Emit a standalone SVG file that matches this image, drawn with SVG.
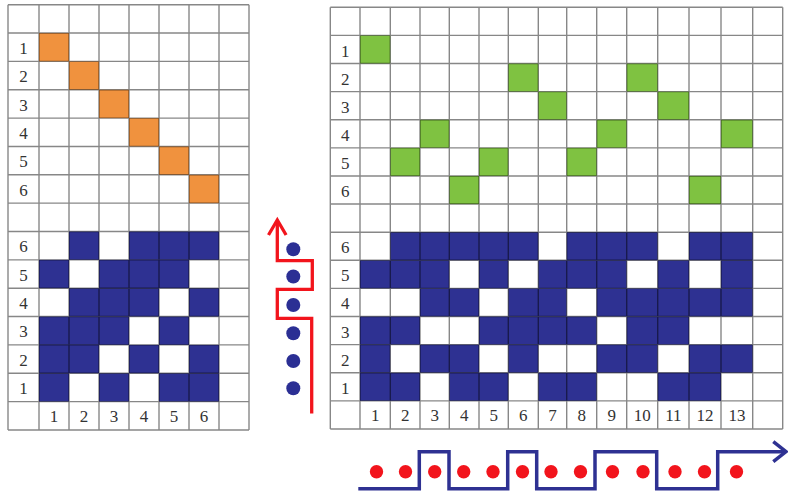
<svg xmlns="http://www.w3.org/2000/svg" width="788" height="492" viewBox="0 0 788 492">
<style>
.orange{fill:#f0923e}
.green{fill:#7fc241}
.blue{fill:#2e3192}
.grid{stroke:#000;stroke-opacity:0.47;stroke-width:1.4;fill:none}
.lbl{font-family:'Liberation Serif', 'Times New Roman', serif;font-size:17px;fill:#333;text-anchor:middle}
.bdot{fill:#2b2f94}
.rdot{fill:#f2141c}
</style>
<rect width="788" height="492" fill="#fff"/>

<g id="left-grid">
  <g id="left-orange">
    <rect class="orange" x="39" y="33.05" width="30" height="28.35"/>
    <rect class="orange" x="69" y="61.4" width="30" height="28.35"/>
    <rect class="orange" x="99" y="89.75" width="30" height="28.35"/>
    <rect class="orange" x="129" y="118.1" width="30" height="28.35"/>
    <rect class="orange" x="159" y="146.45" width="30" height="28.35"/>
    <rect class="orange" x="189" y="174.8" width="30" height="28.35"/>
  </g>
  <g id="left-blue">
    <rect class="blue" x="69" y="231.5" width="30" height="28.35"/>
    <rect class="blue" x="129" y="231.5" width="90" height="28.35"/>
    <rect class="blue" x="39" y="259.85" width="30" height="28.35"/>
    <rect class="blue" x="99" y="259.85" width="90" height="28.35"/>
    <rect class="blue" x="69" y="288.2" width="90" height="28.35"/>
    <rect class="blue" x="189" y="288.2" width="30" height="28.35"/>
    <rect class="blue" x="39" y="316.55" width="90" height="28.35"/>
    <rect class="blue" x="159" y="316.55" width="30" height="28.35"/>
    <rect class="blue" x="39" y="344.9" width="60" height="28.35"/>
    <rect class="blue" x="129" y="344.9" width="30" height="28.35"/>
    <rect class="blue" x="189" y="344.9" width="30" height="28.35"/>
    <rect class="blue" x="39" y="373.25" width="30" height="28.35"/>
    <rect class="blue" x="99" y="373.25" width="30" height="28.35"/>
    <rect class="blue" x="159" y="373.25" width="60" height="28.35"/>
  </g>
  <path class="grid" d="M8,4.7V429.95M39,4.7V429.95M69,4.7V429.95M99,4.7V429.95M129,4.7V429.95M159,4.7V429.95M189,4.7V429.95M219,4.7V429.95M249,4.7V429.95
  M8,4.7H249M8,33.05H249M8,61.4H249M8,89.75H249M8,118.1H249M8,146.45H249M8,174.8H249M8,203.15H249M8,231.5H249M8,259.85H249M8,288.2H249M8,316.55H249M8,344.9H249M8,373.25H249M8,401.6H249M8,429.95H249"/>
  <g id="left-labels" font-family="'Liberation Serif', 'Times New Roman', serif">
    <text class="lbl" x="23.5" y="54">1</text>
    <text class="lbl" x="23.5" y="82.3">2</text>
    <text class="lbl" x="23.5" y="110.6">3</text>
    <text class="lbl" x="23.5" y="139">4</text>
    <text class="lbl" x="23.5" y="167.3">5</text>
    <text class="lbl" x="23.5" y="195.7">6</text>
    <text class="lbl" x="23.5" y="252.4">6</text>
    <text class="lbl" x="23.5" y="280.7">5</text>
    <text class="lbl" x="23.5" y="309.1">4</text>
    <text class="lbl" x="23.5" y="337.4">3</text>
    <text class="lbl" x="23.5" y="365.8">2</text>
    <text class="lbl" x="23.5" y="394.1">1</text>
    <text class="lbl" x="54" y="421.8">1</text>
    <text class="lbl" x="84" y="421.8">2</text>
    <text class="lbl" x="114" y="421.8">3</text>
    <text class="lbl" x="144" y="421.8">4</text>
    <text class="lbl" x="174" y="421.8">5</text>
    <text class="lbl" x="204" y="421.8">6</text>
  </g>
</g>

<g id="right-grid">
  <g id="right-green">
    <rect class="green" x="360" y="35.41" width="30.3" height="28.11"/>
    <rect class="green" x="390.3" y="147.85" width="29.7" height="28.11"/>
    <rect class="green" x="420" y="119.74" width="29.3" height="28.11"/>
    <rect class="green" x="449.3" y="175.96" width="29.7" height="28.11"/>
    <rect class="green" x="479" y="147.85" width="29.3" height="28.11"/>
    <rect class="green" x="508.3" y="63.52" width="30" height="28.11"/>
    <rect class="green" x="538.3" y="91.63" width="28.4" height="28.11"/>
    <rect class="green" x="566.7" y="147.85" width="30" height="28.11"/>
    <rect class="green" x="596.7" y="119.74" width="30" height="28.11"/>
    <rect class="green" x="626.7" y="63.52" width="31" height="28.11"/>
    <rect class="green" x="657.7" y="91.63" width="31.3" height="28.11"/>
    <rect class="green" x="689" y="175.96" width="32" height="28.11"/>
    <rect class="green" x="721" y="119.74" width="31.7" height="28.11"/>
  </g>
  <g id="right-blue">
    <rect class="blue" x="390.3" y="232.18" width="148" height="28.11"/>
    <rect class="blue" x="566.7" y="232.18" width="91" height="28.11"/>
    <rect class="blue" x="689" y="232.18" width="63.7" height="28.11"/>
    <rect class="blue" x="360" y="260.29" width="89.3" height="28.11"/>
    <rect class="blue" x="479" y="260.29" width="29.3" height="28.11"/>
    <rect class="blue" x="538.3" y="260.29" width="88.4" height="28.11"/>
    <rect class="blue" x="657.7" y="260.29" width="31.3" height="28.11"/>
    <rect class="blue" x="721" y="260.29" width="31.7" height="28.11"/>
    <rect class="blue" x="420" y="288.4" width="59" height="28.11"/>
    <rect class="blue" x="508.3" y="288.4" width="58.4" height="28.11"/>
    <rect class="blue" x="596.7" y="288.4" width="156" height="28.11"/>
    <rect class="blue" x="360" y="316.51" width="60" height="28.11"/>
    <rect class="blue" x="479" y="316.51" width="117.7" height="28.11"/>
    <rect class="blue" x="626.7" y="316.51" width="62.3" height="28.11"/>
    <rect class="blue" x="360" y="344.62" width="30.3" height="28.11"/>
    <rect class="blue" x="420" y="344.62" width="59" height="28.11"/>
    <rect class="blue" x="508.3" y="344.62" width="30" height="28.11"/>
    <rect class="blue" x="596.7" y="344.62" width="61" height="28.11"/>
    <rect class="blue" x="689" y="344.62" width="63.7" height="28.11"/>
    <rect class="blue" x="360" y="372.73" width="60" height="28.11"/>
    <rect class="blue" x="449.3" y="372.73" width="59" height="28.11"/>
    <rect class="blue" x="538.3" y="372.73" width="58.4" height="28.11"/>
    <rect class="blue" x="657.7" y="372.73" width="63.3" height="28.11"/>
  </g>
  <path class="grid" d="M330.3,7.3V428.95M360,7.3V428.95M390.3,7.3V428.95M420,7.3V428.95M449.3,7.3V428.95M479,7.3V428.95M508.3,7.3V428.95M538.3,7.3V428.95M566.7,7.3V428.95M596.7,7.3V428.95M626.7,7.3V428.95M657.7,7.3V428.95M689,7.3V428.95M721,7.3V428.95M752.7,7.3V428.95M782.7,7.3V428.95
  M330.3,7.3H782.7M330.3,35.41H782.7M330.3,63.52H782.7M330.3,91.63H782.7M330.3,119.74H782.7M330.3,147.85H782.7M330.3,175.96H782.7M330.3,204.07H782.7M330.3,232.18H782.7M330.3,260.29H782.7M330.3,288.4H782.7M330.3,316.51H782.7M330.3,344.62H782.7M330.3,372.73H782.7M330.3,400.84H782.7M330.3,428.95H782.7"/>
  <g id="right-labels" font-family="'Liberation Serif', 'Times New Roman', serif">
    <text class="lbl" x="345.2" y="56.5">1</text>
    <text class="lbl" x="345.2" y="84.6">2</text>
    <text class="lbl" x="345.2" y="112.7">3</text>
    <text class="lbl" x="345.2" y="140.8">4</text>
    <text class="lbl" x="345.2" y="168.9">5</text>
    <text class="lbl" x="345.2" y="197">6</text>
    <text class="lbl" x="345.2" y="253.2">6</text>
    <text class="lbl" x="345.2" y="281.3">5</text>
    <text class="lbl" x="345.2" y="309.4">4</text>
    <text class="lbl" x="345.2" y="337.6">3</text>
    <text class="lbl" x="345.2" y="365.7">2</text>
    <text class="lbl" x="345.2" y="393.8">1</text>
    <text class="lbl" x="375.2" y="421">1</text>
    <text class="lbl" x="405.2" y="421">2</text>
    <text class="lbl" x="434.7" y="421">3</text>
    <text class="lbl" x="464.2" y="421">4</text>
    <text class="lbl" x="493.7" y="421">5</text>
    <text class="lbl" x="523.3" y="421">6</text>
    <text class="lbl" x="552.5" y="421">7</text>
    <text class="lbl" x="581.7" y="421">8</text>
    <text class="lbl" x="611.7" y="421">9</text>
    <text class="lbl" x="642.2" y="421">10</text>
    <text class="lbl" x="673.4" y="421">11</text>
    <text class="lbl" x="705" y="421">12</text>
    <text class="lbl" x="736.9" y="421">13</text>
  </g>
</g>

<g id="vertical-sequence">
  <circle class="bdot" cx="293.3" cy="249.3" r="7"/>
  <circle class="bdot" cx="293.3" cy="276.5" r="7"/>
  <circle class="bdot" cx="293.3" cy="305" r="7"/>
  <circle class="bdot" cx="293.3" cy="333.3" r="7"/>
  <circle class="bdot" cx="293.3" cy="361" r="7"/>
  <circle class="bdot" cx="293.3" cy="388.3" r="7"/>
</g>

<g id="connectors">
  <path id="red-arrow" d="M311.7,413.5V318.3H277.3V289.3H312.3V260.7H277.3V221" fill="none" stroke="#f2141c" stroke-width="3.3"/>
  <polyline points="268.5,235 277.3,220 286.1,235" fill="none" stroke="#f2141c" stroke-width="3.3"/>
  <path id="blue-signal" d="M358.3,488.7H419.3V451.7H449V488.7H507.7V451.7H536.7V488.7H595V451.7H656.7V488.7H717.7V451.7H785" fill="none" stroke="#2e3192" stroke-width="3.5"/>
  <polyline points="773.3,441.7 786,451.7 773.3,461.7" fill="none" stroke="#2e3192" stroke-width="3.5"/>
</g>

<g id="horizontal-sequence">
  <circle class="rdot" cx="376.5" cy="471.7" r="6.7"/>
  <circle class="rdot" cx="405.5" cy="471.7" r="6.7"/>
  <circle class="rdot" cx="434.7" cy="471.7" r="6.7"/>
  <circle class="rdot" cx="463.7" cy="471.7" r="6.7"/>
  <circle class="rdot" cx="493" cy="471.7" r="6.7"/>
  <circle class="rdot" cx="522.5" cy="471.7" r="6.7"/>
  <circle class="rdot" cx="551" cy="471.7" r="6.7"/>
  <circle class="rdot" cx="580.5" cy="471.7" r="6.7"/>
  <circle class="rdot" cx="612.5" cy="471.7" r="6.7"/>
  <circle class="rdot" cx="643" cy="471.7" r="6.7"/>
  <circle class="rdot" cx="675" cy="471.7" r="6.7"/>
  <circle class="rdot" cx="704.5" cy="471.7" r="6.7"/>
  <circle class="rdot" cx="736.5" cy="471.7" r="6.7"/>
</g>
</svg>
